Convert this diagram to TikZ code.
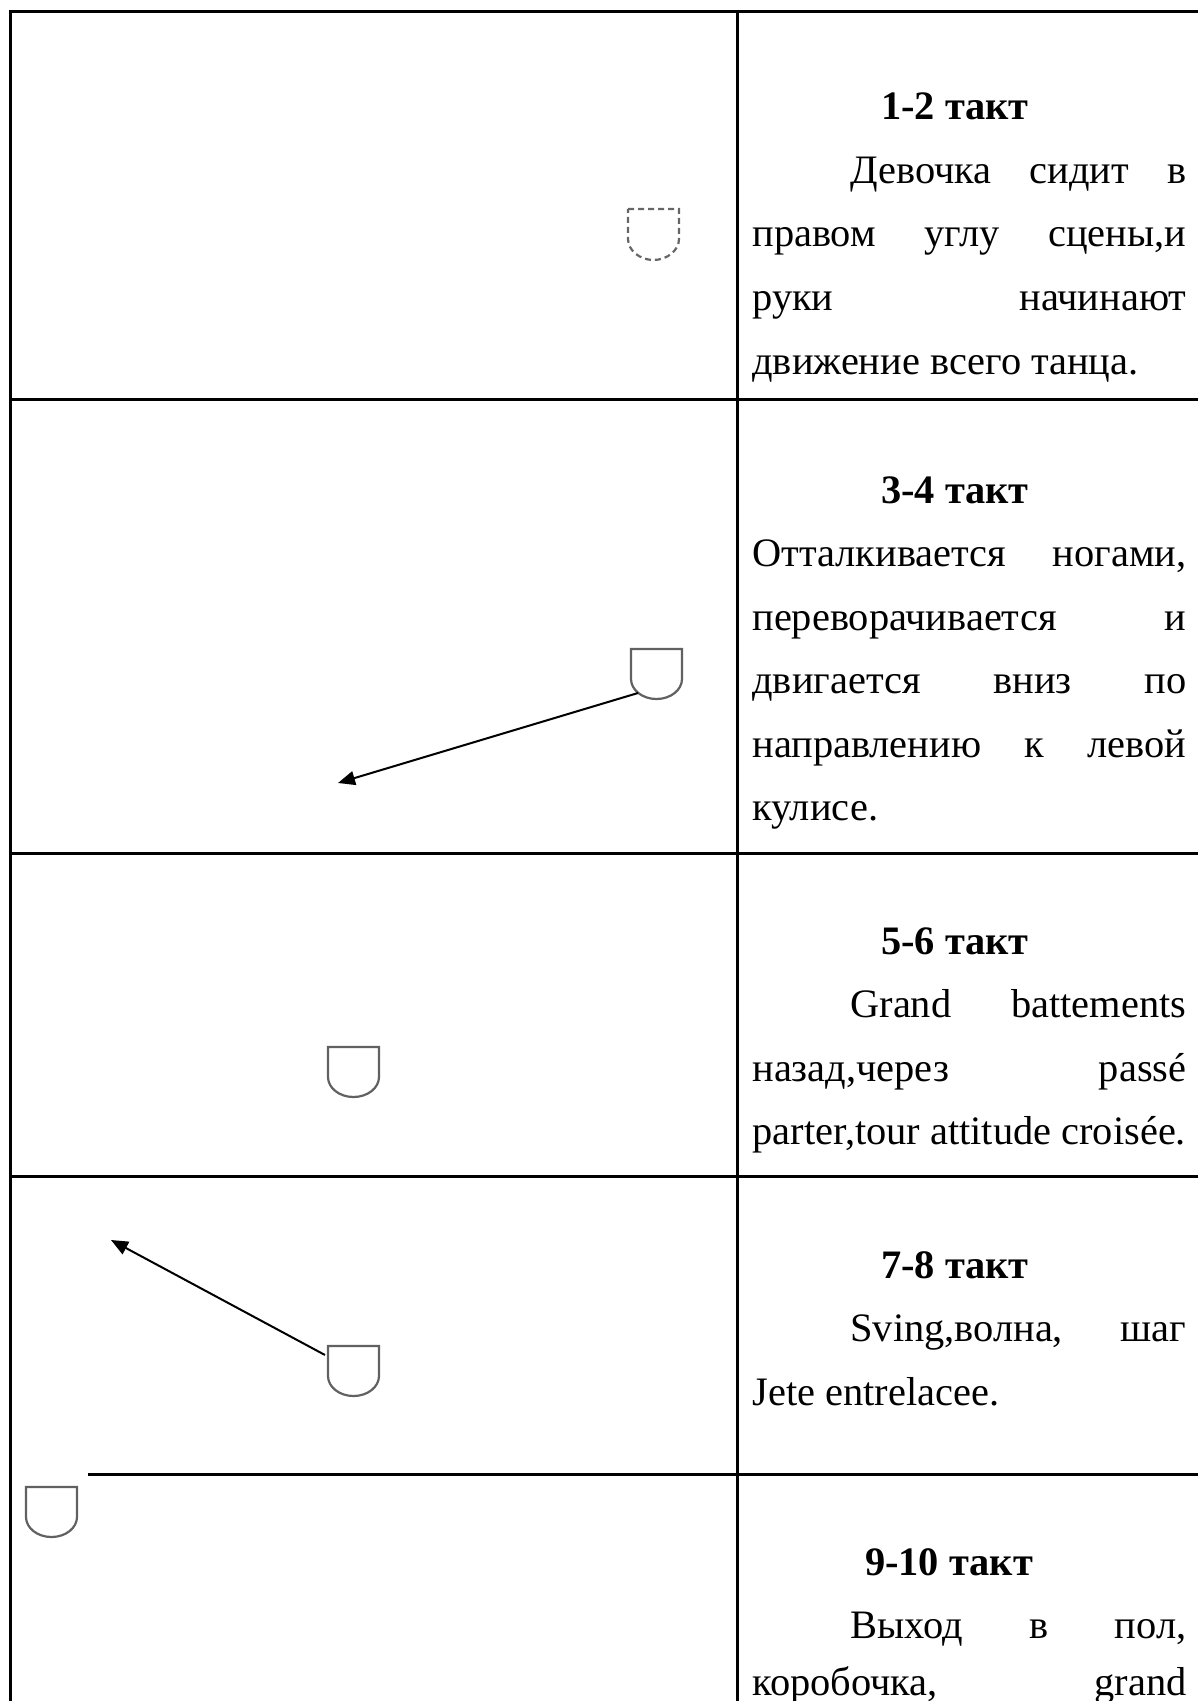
\documentclass[tikz,border=0pt]{standalone}
\usepackage{fontspec}
\setmainfont{Liberation Serif}
\usetikzlibrary{arrows.meta}
\newcommand{\fz}{\fontsize{20.2pt}{31.75pt}\selectfont}
\newcommand{\jl}[2]{\hbox to #1{#2}}
\begin{document}
\begin{tikzpicture}[x=0.5pt,y=-0.5pt,
  rule/.style={line width=1.5pt, black},
  txt/.style={anchor=base west, inner sep=0pt, font=\fz},
  ttl/.style={anchor=base, inner sep=0pt, font=\fz\bfseries},
  mover/.style={line width=1pt, black, -{Triangle[length=8.5pt,width=7pt]}},
  dancer/.pic={\draw[line width=1.1pt, black!62, fill=white] (0,0) -- (51,0) -- (51,30)
     .. controls (51,41) and (39.6,50) .. (25.5,50)
     .. controls (11.4,50) and (0,41) .. (0,30) -- cycle;},
  ghost/.pic={\draw[line width=1.1pt, black!60, dashed, dash pattern=on 3pt off 2pt] (0,0) -- (51,0) -- (51,30)
     .. controls (51,41) and (39.6,51) .. (25.5,51)
     .. controls (11.4,51) and (0,41) .. (0,30) -- cycle;}
]
\useasboundingbox (0,0) rectangle (1198,1701);
% table rules
\coordinate (tl) at (10,12);
\coordinate (tr) at (1198,12);
\draw[rule] (10,1701) -- (tl) -- (tr);
\draw[rule] (737,12) -- (737,1701);
\draw[rule] (10,399) -- (1198,399);
\draw[rule] (10,853) -- (1198,853);
\draw[rule] (10,1176) -- (1198,1176);
\draw[rule] (10,1474) -- (1198,1474);
\fill[white] (12,1466) rectangle (88,1482);

% row 1
\node[ttl] (t1) at (955,120) {1-2 такт};
\node[txt] (a1) at (850,183.5) {\jl{168pt}{Девочка\hfill сидит\hfill в}};
\node[txt] (a2) at (752,247) {\jl{217pt}{правом\hfill углу\hfill сцены,и}};
\node[txt] (a3) at (752,310.5) {\jl{217pt}{руки\hfill начинают}};
\node[txt] (a4) at (752,374) {движение всего танца.};
\pic at (628,209) {ghost};

% row 2
\node[ttl] (t2) at (955,503) {3-4 такт};
\node[txt] (b1) at (752,566.5) {\jl{217pt}{Отталкивается\hfill ногами,}};
\node[txt] (b2) at (752,630) {\jl{217pt}{переворачивается\hfill и}};
\node[txt] (b3) at (752,693.5) {\jl{217pt}{двигается\hfill вниз\hfill по}};
\node[txt] (b4) at (752,757) {\jl{217pt}{направлению\hfill к\hfill левой}};
\node[txt] (b5) at (752,820.5) {кулисе.};
\pic at (631,649) {dancer};
\coordinate (s2) at (638,693);
\coordinate (e2) at (338,783);
\draw[mover] (s2) -- (e2);

% row 3
\node[ttl] (t3) at (955,954) {5-6 такт};
\node[txt] (c1) at (850,1017.5) {\jl{168pt}{Grand\hfill battements}};
\node[txt] (c2) at (752,1081) {\jl{217pt}{назад,через\hfill passé}};
\node[txt] (c3) at (752,1144.5) {parter,tour attitude croisée.};
\pic at (328,1047) {dancer};

% row 4
\node[ttl] (t4) at (955,1278) {7-8 такт};
\node[txt] (d1) at (850,1341.5) {\jl{168pt}{Sving,волна,\hfill шаг}};
\node[txt] (d2) at (752,1405) {Jete entrelacee.};
\pic at (328,1346) {dancer};
\coordinate (s4) at (325,1355);
\coordinate (e4) at (111,1240);
\draw[mover] (s4) -- (e4);

% row 5
\node[ttl] (t5) at (949,1575) {9-10 такт};
\node[txt] (f1) at (850,1638.5) {\jl{168pt}{Выход\hfill в\hfill пол,}};
\node[txt] (f2) at (752,1695) {\jl{217pt}{коробочка,\hfill grand}};
\pic at (26,1487) {dancer};
\end{tikzpicture}
\end{document}
